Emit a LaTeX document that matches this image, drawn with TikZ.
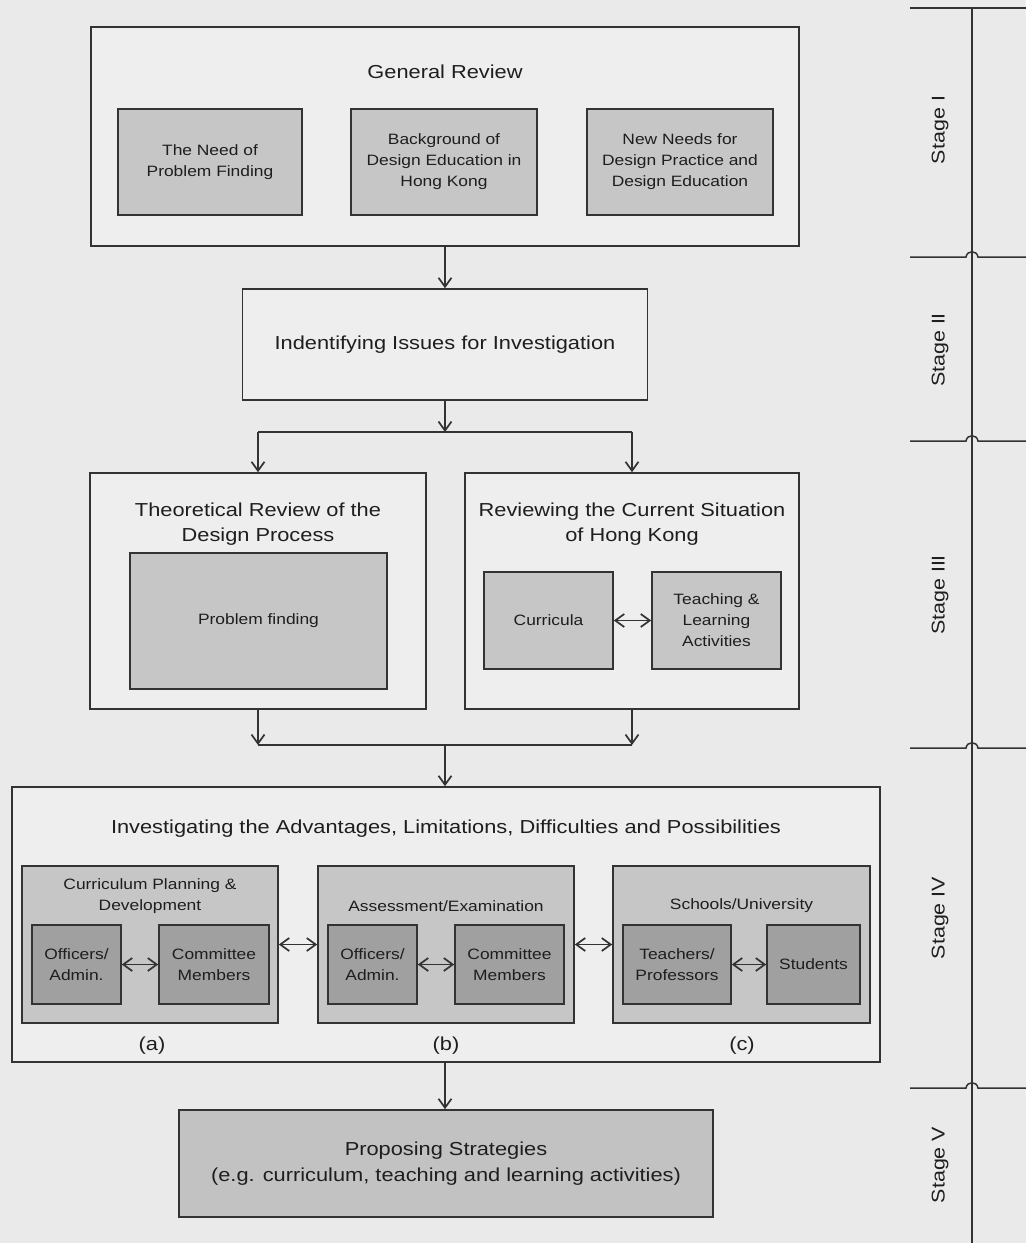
\documentclass[tikz,border=0pt]{standalone}
\usepackage{fontspec}
\setmainfont[FakeStretch=1.16]{Liberation Sans}
\usetikzlibrary{arrows.meta}
\definecolor{bgc}{HTML}{EAEAEA}
\definecolor{outerc}{HTML}{EEEEEE}
\definecolor{midc}{HTML}{C6C6C6}
\definecolor{darkc}{HTML}{A0A0A0}
\definecolor{propc}{HTML}{C2C2C2}
\definecolor{linec}{HTML}{333333}
\definecolor{txtc}{HTML}{1E1E1E}
\tikzset{
  base/.style={draw=linec, line width=1.6pt, inner sep=0pt, align=center, text=txtc},
  outerbox/.style={base, fill=outerc},
  midbox/.style={base, fill=midc, font=\fontsize{15}{21}\selectfont},
  darkbox/.style={base, fill=darkc, font=\fontsize{15}{21}\selectfont},
  propbox/.style={base, fill=propc, font=\fontsize{18.8}{26}\selectfont},
  bigtxt/.style={inner sep=0pt, align=center, text=txtc, font=\fontsize{18.8}{25}\selectfont},
  smalltxt/.style={inner sep=0pt, align=center, text=txtc, font=\fontsize{15}{21}\selectfont},
  stagetxt/.style={inner sep=0pt, text=txtc, rotate=90, font=\fontsize{18.5}{22}\selectfont},
  conn/.style={draw=linec, line width=1.6pt},
  stageline/.style={draw=linec, line width=1.5pt},
  >={Straight Barb[length=9pt,width=13pt,line width=1.7pt]}
}
\begin{document}
\begin{tikzpicture}[x=1pt,y=-1pt]
\fill[bgc] (0,0) rectangle (1026,1243);
\useasboundingbox (0,0) rectangle (1026,1243);

% Stage column
\coordinate (vtop) at (972,8);
\coordinate (vbot) at (972,1243);
\draw[stageline] (vtop) -- (vbot);
\coordinate (h0a) at (910,8); \coordinate (h0b) at (1026,8);
\draw[stageline] (h0a) -- (h0b);
\foreach \yy in {257,441,748,1088}{
  \draw[stageline] (910,\yy) -- (966,\yy) .. controls (967,\yy-7) and (977,\yy-7) .. (978,\yy) -- (1026,\yy);
}
\node[stagetxt] (s1) at (940,130) {Stage I};
\node[stagetxt] (s2) at (940,350) {Stage II};
\node[stagetxt] (s3) at (940,595) {Stage III};
\node[stagetxt] (s4) at (940,918) {Stage IV};
\node[stagetxt] (s5) at (940,1165) {Stage V};

% Stage I
\node[outerbox, minimum width=708, minimum height=219] (gr) at (445,136.5) {};
\node[bigtxt] (grt) at (445,72) {General Review};
\node[midbox, minimum width=184, minimum height=106] (gr1) at (210,162) {The Need of\\Problem Finding};
\node[midbox, minimum width=186, minimum height=106] (gr2) at (444,162) {Background of\\Design Education in\\Hong Kong};
\node[midbox, minimum width=186, minimum height=106] (gr3) at (680,162) {New Needs for\\Design Practice and\\Design Education};

% Stage II
\node[outerbox, minimum width=405, minimum height=111, font=\fontsize{18.8}{25}\selectfont] (iss) at (445,344.5) {Indentifying Issues for Investigation};

% Stage III
\node[outerbox, minimum width=336, minimum height=236] (theo) at (258,591) {};
\node[bigtxt] (theot) at (258,524.5) {Theoretical Review of the\\Design Process};
\node[midbox, minimum width=257, minimum height=136] (theoin) at (258.5,621) {Problem finding};

\node[outerbox, minimum width=334, minimum height=236] (rev) at (632,591) {};
\node[bigtxt] (revt) at (632,524.5) {Reviewing the Current Situation\\of Hong Kong};
\node[midbox, minimum width=129, minimum height=97] (cur) at (548.5,620.5) {Curricula};
\node[midbox, minimum width=129, minimum height=97] (tla) at (716.5,620.5) {Teaching \&\\Learning\\Activities};

% Stage IV
\node[outerbox, minimum width=868, minimum height=275] (inv) at (446,924.5) {};
\node[bigtxt] (invt) at (446,829) {Investigating the Advantages, Limitations, Difficulties and Possibilities};

\node[midbox, minimum width=256, minimum height=157] (suba) at (150,944.5) {};
\node[smalltxt] (subat) at (150,896) {Curriculum Planning \&\\Development};
\node[darkbox, minimum width=89, minimum height=79] (a1) at (76.5,964.5) {Officers/\\Admin.};
\node[darkbox, minimum width=110, minimum height=79] (a2) at (214,964.5) {Committee\\Members};

\node[midbox, minimum width=256, minimum height=157] (subb) at (446,944.5) {};
\node[smalltxt] (subbt) at (446,906) {Assessment/Examination};
\node[darkbox, minimum width=89, minimum height=79] (b1) at (372.5,964.5) {Officers/\\Admin.};
\node[darkbox, minimum width=109, minimum height=79] (b2) at (509.5,964.5) {Committee\\Members};

\node[midbox, minimum width=257, minimum height=157] (subc) at (741.5,944.5) {};
\node[smalltxt] (subct) at (741.5,906) {Schools/University};
\node[darkbox, minimum width=108, minimum height=79] (c1) at (677,964.5) {Teachers/\\Professors};
\node[darkbox, minimum width=93, minimum height=79] (c2) at (813.5,964.5) {Students};

\node[bigtxt] (la) at (152,1046) {(a)};
\node[bigtxt] (lb) at (446,1046) {(b)};
\node[bigtxt] (lc) at (742,1046) {(c)};

% Stage V
\node[propbox, minimum width=534, minimum height=107] (prop) at (446,1163.5) {Proposing Strategies\\(e.g. curriculum, teaching and learning activities)};

% Connectors
\draw[conn,->] (gr.south) -- (iss.north);
\coordinate (j1) at (445,432);
\coordinate (jl) at (258,432);
\coordinate (jr) at (632,432);
\draw[conn,->] (iss.south) -- (j1);
\draw[conn] (jl) -- (jr);
\draw[conn,->] (jl) -- (theo.north);
\draw[conn,->] (jr) -- (rev.north);
\draw[conn,<->] (cur.east) -- (tla.west);

\coordinate (k1) at (445,745);
\coordinate (kl) at (258,745);
\coordinate (kr) at (632,745);
\draw[conn,->] (theo.south) -- (kl);
\draw[conn,->] (rev.south) -- (kr);
\draw[conn] (kl) -- (kr);
\draw[conn,->] (k1) -- (k1 |- inv.north);

\draw[conn,<->] (suba.east) -- (subb.west);
\draw[conn,<->] (subb.east) -- (subc.west);
\draw[conn,<->] (a1.east) -- (a2.west);
\draw[conn,<->] (b1.east) -- (b2.west);
\draw[conn,<->] (c1.east) -- (c2.west);

\coordinate (m1) at (445,1062);
\draw[conn,->] (m1) -- (m1 |- prop.north);
\end{tikzpicture}
\end{document}
